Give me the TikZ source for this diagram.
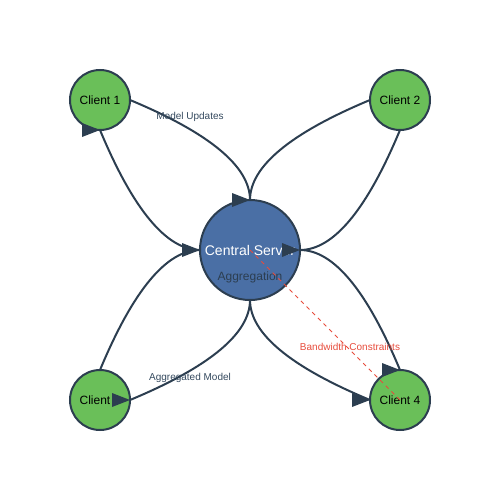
\documentclass[tikz,border=0pt]{standalone}
\usepackage{fontspec}
\setmainfont{Liberation Sans}
\usetikzlibrary{calc}
\definecolor{nodegreen}{RGB}{106,191,89}
\definecolor{srvblue}{RGB}{74,111,165}
\definecolor{navy}{HTML}{2C3E50}
\definecolor{labelgray}{HTML}{34495E}
\definecolor{warnred}{HTML}{E74C3C}
\tikzset{
  client/.style={circle, draw=navy, line width=2pt, fill=nodegreen, minimum size=60pt,
    inner sep=0pt, outer sep=0pt, font=\fontsize{12}{12}\selectfont, text=black,
    text height=8.6pt, text depth=0pt},
  server/.style={circle, draw=navy, line width=2pt, fill=srvblue, minimum size=100pt,
    inner sep=0pt, outer sep=0pt, font=\fontsize{14}{14}\selectfont, text=white,
    text height=10pt, text depth=0pt},
  flow/.style={draw=navy, line width=2pt},
  tipfill/.style={fill=navy},
  edgelabel/.style={anchor=base, font=\fontsize{10}{10}\selectfont, text=labelgray, inner sep=0pt},
  constraint/.style={draw=warnred, line width=1pt, dash pattern=on 4pt off 4pt},
}
\newcommand{\rtip}[1]{\fill[tipfill] (#1) -- ++(-18,-7) -- ++(0,14) -- cycle;}
\begin{document}
\begin{tikzpicture}[x=1pt, y=-1pt]
\useasboundingbox (0,0) rectangle (500,500);
% server
\node[server] (srv) at (250,250) {Central Server};
\node[anchor=base, font=\fontsize{12}{12}\selectfont, text=navy, inner sep=0pt] (agg) at (250,280) {Aggregation};
% clients
\node[client] (c1) at (100,100) {Client 1};
\node[client] (c2) at (400,100) {Client 2};
\node[client] (c3) at (100,400) {Client 3};
\node[client] (c4) at (400,400) {Client 4};
% connectors
\draw[flow] (c1.east) .. controls +(80,33.33) and +(0,-33.33) .. (srv.north);
\draw[flow] (c2.west) .. controls +(-80,33.33) and +(0,-33.33) .. (srv.north);
\draw[flow] (c2.south) .. controls +(-33.33,80) and +(33.33,0) .. (srv.east);
\draw[flow] (srv.east) .. controls +(33.33,0) and +(-33.33,-80) .. (c4.north);
\draw[flow] (srv.south) .. controls +(0,33.33) and +(-80,-33.33) .. (c4.west);
\draw[flow] (srv.south) .. controls +(0,33.33) and +(80,-33.33) .. (c3.east);
\draw[flow] (c3.north) .. controls +(33.33,-80) and +(-33.33,0) .. (srv.west);
\draw[flow] (srv.west) .. controls +(-33.33,0) and +(33.33,80) .. (c1.south);
% arrowheads
\rtip{srv.north}
\rtip{srv.east}
\rtip{srv.west}
\rtip{c4.north}
\rtip{c4.west}
\rtip{c3.east}
\rtip{c1.south}
% constraint
\draw[constraint] (srv.center) -- (c4.center);
% labels
\node[edgelabel] (lup) at (190,120) {Model Updates};
\node[edgelabel] (ldown) at (190,380) {Aggregated Model};
\node[edgelabel, text=warnred] (lbw) at (350,350) {Bandwidth Constraints};
\end{tikzpicture}
\end{document}
